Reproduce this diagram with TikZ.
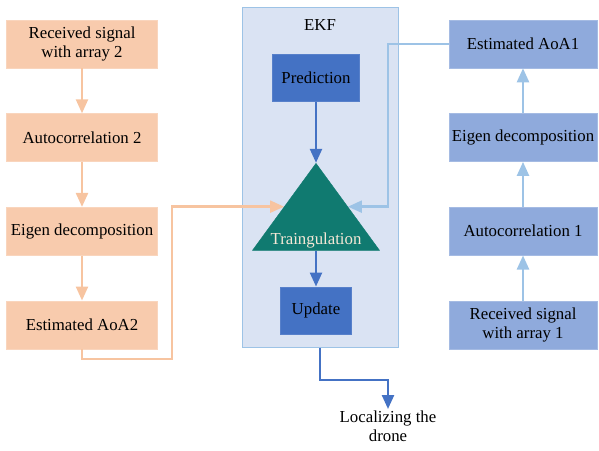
\documentclass[tikz,border=0pt]{standalone}
\usepackage{fontspec}
\setmainfont{Liberation Serif}
\definecolor{peach}{RGB}{248, 203, 173}
\definecolor{peachline}{RGB}{247, 196, 160}
\definecolor{midblue}{RGB}{143, 170, 220}
\definecolor{skyblue}{RGB}{157, 195, 230}
\definecolor{ekfback}{RGB}{218, 227, 243}
\definecolor{darkblue}{RGB}{68, 114, 196}
\definecolor{teal}{RGB}{16, 122, 112}
\definecolor{cream}{RGB}{246, 232, 214}
\usetikzlibrary{arrows.meta, positioning, shapes.geometric}
\tikzset{
	base/.style={rectangle, align=center, font=\fontsize{16.8}{19}\selectfont, inner sep=2pt},
	peachbox/.style={base, draw=peach!80!white, fill=peach, line width=0.6pt, minimum width=151pt, minimum height=48pt},
	bluebox/.style={base, draw=midblue!80!white, fill=midblue, line width=0.6pt, minimum width=148pt, minimum height=48pt},
	ekfbox/.style={rectangle, draw=skyblue, fill=ekfback, line width=1pt, minimum width=156pt, minimum height=340pt},
	darkbox/.style={base, draw=darkblue!90!white, fill=darkblue, line width=0.6pt, minimum height=47pt},
	tribox/.style={isosceles triangle, shape border rotate=90, isosceles triangle stretches, draw=teal, fill=teal, minimum width=127pt, minimum height=87pt, inner sep=0pt},
	plain/.style={base, align=center},
	peacharrow/.style={-{Triangle[length=14pt, width=12pt]}, line width=2.4pt, draw=peachline},
	skyarrow/.style={-{Triangle[length=14pt, width=12pt]}, line width=2.4pt, draw=skyblue},
	darkarrow/.style={-{Triangle[length=14pt, width=12pt]}, line width=2.4pt, draw=darkblue},
}
\begin{document}
\begin{tikzpicture}[x=1pt, y=-1pt, node distance=45pt]
		\useasboundingbox (0,0) rectangle (599,450);
		\node[peachbox] (sig2) at (82,44) {Received signal\\with array 2};
		\node[peachbox, below=of sig2] (auto2) {Autocorrelation 2};
		\node[peachbox, below=of auto2] (eig2) {Eigen decomposition};
		\node[peachbox, below=of eig2] (aoa2) {Estimated AoA2};
		\node[bluebox] (aoa1) at (523,44) {Estimated AoA1};
		\node[bluebox, below=of aoa1] (eig1) {Eigen decomposition};
		\node[bluebox, below=of eig1] (auto1) {Autocorrelation 1};
		\node[bluebox, below=of auto1] (sig1) {Received signal\\with array 1};
		\node[ekfbox] (ekf) at (320,177) {};
		\node[plain, below=11pt of ekf.north] (ekftitle) {EKF};
		\node[darkbox, minimum width=87pt] (pred) at (316,78) {Prediction};
		\node[tribox, below=61pt of pred] (tri) {};
		\node[plain, text=cream, above=0pt of tri.south] (tritext) {Traingulation};
		\node[darkbox, minimum width=71pt, below=36pt of tri] (upd) {Update};
		\node[plain, anchor=north] (drone) at (388,409) {Localizing the\\drone};
		\coordinate (lbend) at (172,359);
		\coordinate (rbend) at (388,120);
		\coordinate (obend) at (350,380);
		\draw[peacharrow] (sig2) -- (auto2);
		\draw[peacharrow] (auto2) -- (eig2);
		\draw[peacharrow] (eig2) -- (aoa2);
		\draw[peacharrow] (aoa2.south) |- (lbend) |- (tri.left side);
		\draw[skyarrow] (sig1) -- (auto1);
		\draw[skyarrow] (auto1) -- (eig1);
		\draw[skyarrow] (eig1) -- (aoa1);
		\draw[skyarrow] (aoa1.west) -| (rbend) |- (tri.right side);
		\draw[darkarrow] (pred) -- (tri.apex);
		\draw[darkarrow] (tri.south) -- (upd);
		\draw[darkarrow] (ekf.south) |- (obend) -| (drone.north);
	\end{tikzpicture}
\end{document}
